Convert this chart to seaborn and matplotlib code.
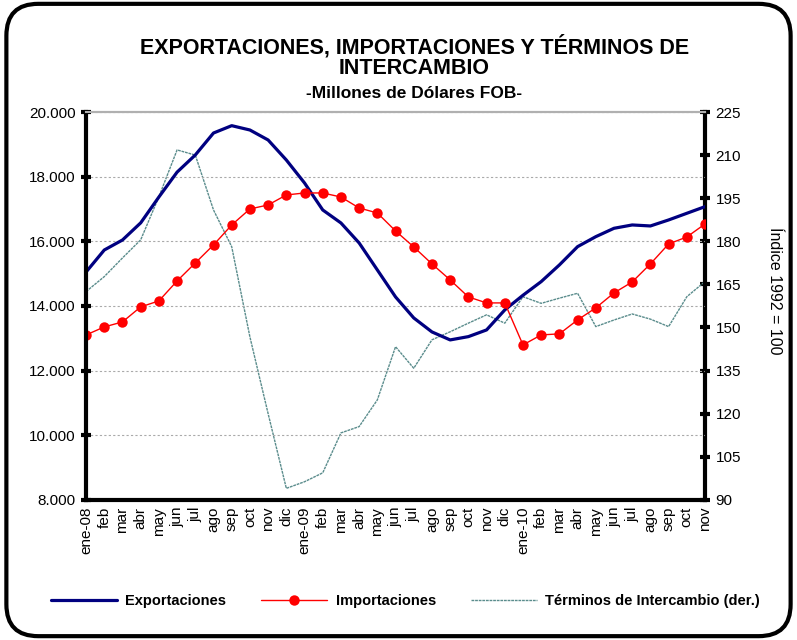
import numpy as np
import pandas as pd
import matplotlib
matplotlib.use("Agg")
import matplotlib.pyplot as plt
import seaborn as sns
from matplotlib.patches import FancyBboxPatch

# etiquetas de meses (ene-08 a nov-10)
meses = ["ene-08", "feb", "mar", "abr", "may", "jun", "jul", "ago", "sep", "oct", "nov", "dic",
         "ene-09", "feb", "mar", "abr", "may", "jun", "jul", "ago", "sep", "oct", "nov", "dic",
         "ene-10", "feb", "mar", "abr", "may", "jun", "jul", "ago", "sep", "oct", "nov"]

# millones de dolares FOB
exportaciones = [15050, 15730, 16040, 16570, 17370, 18140, 18670, 19350, 19577, 19443, 19134, 18515,
                 17804, 16969, 16567, 15948, 15113, 14278, 13628, 13195, 12948, 13050, 13257, 13876,
                 14330, 14752, 15268, 15834, 16143, 16402, 16505, 16474, 16660, 16866, 17072]
importaciones = [13103, 13350, 13505, 13970, 14155, 14773, 15330, 15886, 16505, 17000, 17124, 17433,
                 17495, 17495, 17370, 17030, 16876, 16320, 15825, 15300, 14804, 14278, 14093, 14093,
                 12793, 13103, 13135, 13567, 13939, 14402, 14742, 15300, 15917, 16133, 16536]
# indice 1992 = 100
terminos = [162.5, 167.7, 174.2, 180.5, 195.5, 211.8, 210.0, 190.9, 178.1, 146.7, 120.0, 94.0,
            96.3, 99.4, 113.3, 115.5, 124.8, 143.3, 135.8, 145.7, 148.5, 151.5, 154.4, 151.5,
            160.7, 158.4, 160.2, 161.9, 150.3, 152.6, 154.7, 152.9, 150.3, 160.7, 166.0]

df = pd.DataFrame({"mes": np.arange(len(meses)), "Exportaciones": exportaciones,
                   "Importaciones": importaciones, "Terminos": terminos})

sns.set_style("white")
plt.rcParams["font.family"] = ["Liberation Sans", "DejaVu Sans"]
plt.rcParams["text.color"] = "black"
plt.rcParams["xtick.color"] = "black"
plt.rcParams["ytick.color"] = "black"
plt.rcParams["axes.edgecolor"] = "black"

fig = plt.figure(figsize=(7.97, 6.4), dpi=100)
ax = fig.add_axes([0.108, 0.219, 0.7766, 0.606])
ax2 = ax.twinx()

sns.lineplot(data=df, x="mes", y="Terminos", ax=ax2, color="#5a8c8c", linewidth=1.0,
             linestyle=(0, (2, 0.6)), label="Términos de Intercambio (der.)", legend=False)
sns.lineplot(data=df, x="mes", y="Exportaciones", ax=ax, color="#000080", linewidth=2.3,
             label="Exportaciones", legend=False)
sns.lineplot(data=df, x="mes", y="Importaciones", ax=ax, color="#ff0000", linewidth=1.0,
             marker="o", markersize=7.5, markeredgewidth=0, label="Importaciones", legend=False)

ax.set_zorder(ax2.get_zorder() + 1)
ax.patch.set_visible(False)

ax.set_xlim(0, len(meses) - 1)
ax.set_ylim(8000, 20000)
ax2.set_ylim(90, 225)

yt = np.arange(8000, 20001, 2000)
ax.set_yticks(yt)
ax.set_yticklabels([f"{v:,.0f}".replace(",", ".") for v in yt], fontsize=11)
ax2.set_yticks(np.arange(90, 226, 15))
ax2.tick_params(axis="y", labelsize=11, direction="inout", length=7, width=3, pad=4)
ax.tick_params(axis="y", direction="inout", length=7, width=3, pad=4)

ax.set_xticks(np.arange(len(meses)))
ax.set_xticklabels(meses, rotation=90, fontsize=11)
ax.set_xticks(np.arange(0, len(meses), 6), minor=True)
ax.tick_params(axis="x", which="major", length=0, pad=5)
ax.tick_params(axis="x", which="minor", direction="inout", length=7, width=3)

ax.grid(True, axis="y", which="major", linestyle=(0, (2, 2)), color="#aaaaaa", linewidth=0.8)
ax.grid(True, axis="x", which="minor", linestyle=(0, (2, 2)), color="#aaaaaa", linewidth=0.8)

ax.set_xlabel("")
ax.set_ylabel("")
ax2.set_xlabel("")
ax2.set_ylabel("")
fig.text(775 / 797, 1 - 291 / 640, "Índice 1992 = 100", rotation=-90, ha="center", va="center",
         fontsize=11.5)

for a in (ax, ax2):
    a.spines["top"].set_color("#b0b0b0")
    a.spines["top"].set_linewidth(1.5)
ax.spines["left"].set_linewidth(3)
ax.spines["bottom"].set_linewidth(3)
ax.spines["right"].set_visible(False)
ax2.spines["left"].set_visible(False)
ax2.spines["bottom"].set_visible(False)
ax2.spines["right"].set_linewidth(3)

fig.text(0.52, 1 - 57 / 640, "EXPORTACIONES, IMPORTACIONES Y TÉRMINOS DE\nINTERCAMBIO",
         ha="center", va="center", fontsize=15.5, fontweight="bold", linespacing=0.95)
fig.text(0.52, 1 - 93 / 640, "-Millones de Dólares FOB-", ha="center", va="center",
         fontsize=12.5, fontweight="bold")

h1, l1 = ax.get_legend_handles_labels()
h2, l2 = ax2.get_legend_handles_labels()
fig.legend(h1 + h2, l1 + l2, loc="center", bbox_to_anchor=(0.509, 0.061), ncol=3,
           frameon=False, prop={"weight": "bold", "size": 10.5}, handlelength=4.5,
           columnspacing=2.4, handletextpad=0.6)

frame = FancyBboxPatch((0.008, 0.006), 0.984, 0.988, boxstyle="round,pad=0,rounding_size=0.04",
                       transform=fig.transFigure, fill=False, edgecolor="black", linewidth=3,
                       mutation_aspect=797 / 640)
fig.patches.append(frame)

fig.savefig("out.png", dpi=100)
